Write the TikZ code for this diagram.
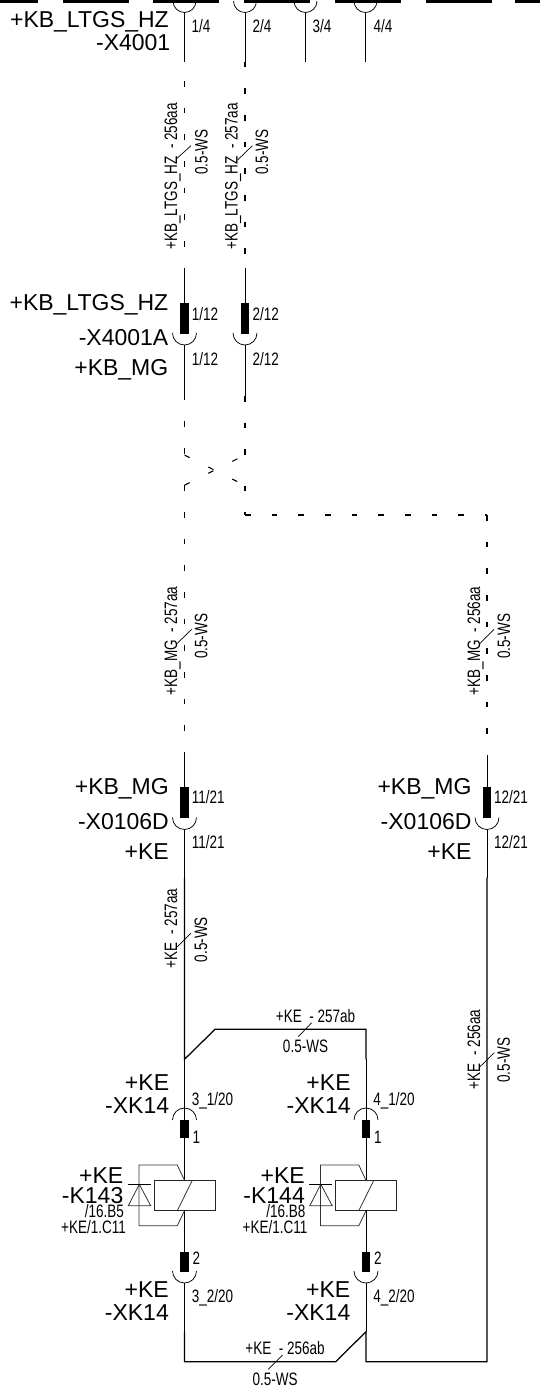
\documentclass[tikz,border=0pt]{standalone}
\usepackage{fontspec}
\setmainfont{Liberation Sans}
\newfontfamily\narrowf[FakeStretch=0.75]{Liberation Sans}
\tikzset{
  biglabel/.style={anchor=base east,inner sep=0pt,font=\fontsize{23}{23}\selectfont},
  smalllabel/.style={anchor=base west,inner sep=0pt,font=\narrowf\fontsize{18}{18}\selectfont},
  smallright/.style={anchor=base east,inner sep=0pt,font=\narrowf\fontsize{18}{18}\selectfont},
  smallmid/.style={anchor=base,inner sep=0pt,font=\narrowf\fontsize{18}{18}\selectfont},
  wirelabel/.style={rotate=90,anchor=base,inner sep=0pt,font=\narrowf\fontsize{18}{18}\selectfont},
  stub/.style={draw=black,line width=0.9pt},
  wire/.style={draw=black,line width=1.25pt},
  dashwire/.style={draw=black,line width=1.1pt,dash pattern=on 5.7pt off 20.97pt},
  tick/.style={draw=black,line width=0.7pt},
  pinbox/.style={fill=black,draw=none,inner sep=0pt,minimum width=8.6pt},
  socket/.style={draw=black,line width=0.75pt},
  bar/.style={fill=black,draw=none,inner sep=0pt,minimum height=5.4pt},
  coil/.style={draw=black!85,line width=0.9pt,inner sep=0pt,minimum width=60.7pt,minimum height=30.4pt},
  thin part/.style={draw=black!80,line width=0.8pt}
}
\begin{document}
\begin{tikzpicture}[x=1pt,y=-1pt]
\useasboundingbox (0,0) rectangle (540,1398);
% top bars
\foreach \n/\a/\w in {a/19/38,b/96/66,c/186/66,d/276.5/66,e/368/66,f/458.5/66,g/527.5/25}
  \node[bar,minimum width=\w pt] (bar\n) at (\a,0) {};
% top sockets
\foreach \n/\cx/\e in {1/184.5/62.3,2/245/66.7,3/305.5/62.3,4/365.5/62.3}{
  \coordinate (s\n) at (\cx,12.5);
  \coordinate (e\n) at (\cx,\e);
  \draw[socket] ([xshift=-11.5pt,yshift=11.5pt]s\n) arc[start angle=180,end angle=360,radius=11.5pt];
  \draw[stub] (s\n) -- (e\n);
}
\node[smalllabel] (t1) at (191.5,32) {1/4};
\node[smalllabel] (t2) at (252.5,32) {2/4};
\node[smalllabel] (t3) at (312.5,32) {3/4};
\node[smalllabel] (t4) at (373.5,32) {4/4};
\node[biglabel] (la) at (169,27.3) {+KB\_LTGS\_HZ};
\node[biglabel] (lb) at (170.5,50.5) {-X4001};
% dashed wires top
\coordinate (d1a) at (184.5,54.3); \coordinate (d1b) at (184.5,267.7);
\coordinate (d2a) at (245,61.6);  \coordinate (d2b) at (245,274);
\draw[dashwire] (d1a) -- (d1b);
\draw[dashwire] (d2a) -- (d2b);
\node[wirelabel] (w1) at (177,176.3) {+KB\_LTGS\_HZ\ \ - 256aa};
\node[wirelabel] (w1b) at (207.5,152) {0.5-WS};
\coordinate (k1a) at (177,158.3); \coordinate (k1b) at (191,145.7);
\draw[tick] (k1a) -- (k1b);
\node[wirelabel] (w2) at (237.6,176.3) {+KB\_LTGS\_HZ\ \ - 257aa};
\node[wirelabel] (w2b) at (268,152) {0.5-WS};
\coordinate (k2a) at (237.6,160); \coordinate (k2b) at (252.4,145.7);
\draw[tick] (k2a) -- (k2b);
% X4001A
\foreach \n/\cx/\lx/\e in {1/184.5/191.7/396.7,2/245/252.3/396}{
  \coordinate (u\n) at (\cx,267.7);
  \node[pinbox,minimum height=31pt] (pa\n) at (\cx,318.5) {};
  \coordinate (v\n) at (\cx,345);
  \coordinate (x\n) at (\cx,\e);
  \draw[stub] (u\n) -- (pa\n.north);
  \draw[socket] ([xshift=-12pt,yshift=12pt]v\n) arc[start angle=180,end angle=360,radius=12pt];
  \draw[stub] (v\n) -- (x\n);
}
\node[smalllabel] (t5) at (191.7,320) {1/12};
\node[smalllabel] (t6) at (191.7,365) {1/12};
\node[smalllabel] (t7) at (252.3,320) {2/12};
\node[smalllabel] (t8) at (252.3,365) {2/12};
\node[biglabel] (lc) at (168.5,310.7) {+KB\_LTGS\_HZ};
\node[biglabel] (ld) at (168.5,345.7) {-X4001A};
\node[biglabel] (le) at (168.5,375.7) {+KB\_MG};
% crossing
\coordinate (c1) at (184.5,394.6); \coordinate (c2) at (184.5,455);
\coordinate (c3) at (245,485.5);  \coordinate (c4) at (245,515);
\coordinate (c5) at (487,515);    \coordinate (c6) at (487,755);
\coordinate (c7) at (245,396);    \coordinate (c8) at (245,455);
\coordinate (c9) at (184.5,485.2);\coordinate (c10) at (184.5,751.7);
\draw[dashwire] (c1) -- (c2);
\draw[dashwire] (c2) -- (c3);
\draw[dashwire] (c3) -- (c4);
\draw[dashwire] (c4) -- (c5);
\draw[dashwire] (c5) -- (c6);
\draw[dashwire] (c7) -- (c8);
\draw[dashwire] (c9) -- (c8);
\draw[dashwire] (c9) -- (c10);
\node[wirelabel] (w3) at (177,641) {+KB\_MG\ \ - 257aa};
\node[wirelabel] (w3b) at (207.3,636.3) {0.5-WS};
\coordinate (k3a) at (177.3,643.3); \coordinate (k3b) at (191.7,629.3);
\draw[tick] (k3a) -- (k3b);
\node[wirelabel] (w4) at (480,641) {+KB\_MG\ \ - 256aa};
\node[wirelabel] (w4b) at (510,636.3) {0.5-WS};
\coordinate (k4a) at (480,643.3); \coordinate (k4b) at (494,629.3);
\draw[tick] (k4a) -- (k4b);
% X0106D
\foreach \n/\cx in {1/184.5,2/487}{
  \coordinate (y\n) at (\cx,\ifnum\n=1 751.7\else 755\fi);
  \node[pinbox,minimum height=31pt] (pb\n) at (\cx,802.5) {};
  \coordinate (z\n) at (\cx,829.5);
  \coordinate (q\n) at (\cx,877.5);
  \draw[stub] (y\n) -- (pb\n.north);
  \draw[socket] ([xshift=-12pt,yshift=12pt]z\n) arc[start angle=180,end angle=360,radius=12pt];
  \draw[stub] (z\n) -- (q\n);
}
\node[smalllabel] (t9) at (191.7,803.3) {11/21};
\node[smalllabel] (t10) at (191.7,848.3) {11/21};
\node[smalllabel] (t11) at (494,803.3) {12/21};
\node[smalllabel] (t12) at (494,848.3) {12/21};
\node[biglabel] (lf) at (169,794.5) {+KB\_MG};
\node[biglabel] (lg) at (169,829) {-X0106D};
\node[biglabel] (lh) at (169,859) {+KE};
\node[biglabel] (li) at (471.7,794.5) {+KB\_MG};
\node[biglabel] (lj) at (471.7,829) {-X0106D};
\node[biglabel] (lk) at (471.7,859) {+KE};
% +KE wires
\coordinate (j1) at (184.5,1059.3); \coordinate (j2) at (215,1029.3); \coordinate (j3) at (366,1029.3); \coordinate (j4) at (366,1059.3);
\draw[wire] (q1) -- (j1) -- (j2) -- (j3) -- (j4);
\coordinate (b1) at (184.5,1331.7); \coordinate (b2) at (184.5,1361.7); \coordinate (b3) at (335.7,1361.7); \coordinate (b4) at (366,1331.7); \coordinate (b5) at (366,1361.7); \coordinate (b6) at (487,1361.7);
\draw[wire] (b1) -- (b2) -- (b3) -- (b4) -- (b5) -- (b6) -- (q2);
\node[wirelabel] (w5) at (177,928.5) {+KE\ \ - 257aa};
\node[wirelabel] (w5b) at (207,939.5) {0.5-WS};
\coordinate (k5a) at (177.3,946.7); \coordinate (k5b) at (191,933);
\draw[tick] (k5a) -- (k5b);
\node[wirelabel] (w6) at (480,1049.5) {+KE\ \ - 256aa};
\node[wirelabel] (w6b) at (509.8,1060.2) {0.5-WS};
\coordinate (k6a) at (480,1066.7); \coordinate (k6b) at (494.3,1052.7);
\draw[tick] (k6a) -- (k6b);
\node[smallmid] (w7) at (315.5,1022) {+KE\ \ - 257ab};
\node[smallmid] (w7b) at (305.5,1052) {0.5-WS};
\coordinate (k7a) at (311.7,1022.7); \coordinate (k7b) at (298.3,1036.7);
\draw[tick] (k7a) -- (k7b);
\node[smallmid] (w8) at (285,1354.5) {+KE\ \ - 256ab};
\node[smallmid] (w8b) at (275.2,1385) {0.5-WS};
\coordinate (k8a) at (282.7,1355); \coordinate (k8b) at (268.3,1369.3);
\draw[tick] (k8a) -- (k8b);
% relays
\foreach \n/\dx/\loc/\cola/\colb in {143/0/B5/3/3,144/181.5/B8/4/4}{
\begin{scope}[shift={(\dx,0)}]
  \coordinate (ka\n) at (184.5,1059.3);
  \coordinate (kb\n) at (184.5,1108);
  \draw[stub] (ka\n) -- (kb\n);
  \draw[socket] (172.5,1120) arc[start angle=180,end angle=0,radius=12pt];
  \node[pinbox,minimum height=18pt] (pc\n) at (184.5,1129) {};
  \draw[stub] (kb\n) -- (pc\n.north);
  \node[coil] (coil\n) at (184.65,1195.5) {};
  \draw[stub] (pc\n.south) -- (coil\n.north -| pc\n.south);
  \coordinate (sa\n) at (177.3,1210.7); \coordinate (sb\n) at (192.3,1180.3);
  \draw[thin part] (sa\n) -- (sb\n);
  \coordinate (r1\n) at (184.5,1180.3); \coordinate (r2\n) at (177.3,1165); \coordinate (r3\n) at (139,1165);
  \coordinate (r4\n) at (139,1225.7); \coordinate (r5\n) at (177.3,1225.7); \coordinate (r6\n) at (184.5,1210.7);
  \draw[thin part] (r1\n) -- (r2\n) -- (r3\n) -- (r4\n) -- (r5\n) -- (r6\n);
  \coordinate (da\n) at (139.3,1184.3); \coordinate (db\n) at (128.3,1205.7); \coordinate (dc\n) at (150.7,1205.7);
  \draw[thin part] (da\n) -- (db\n) -- (dc\n) -- cycle;
  \coordinate (dd\n) at (127.7,1184.3); \coordinate (de\n) at (150.7,1184.3);
  \draw[draw=black,line width=0.8pt] (dd\n) -- (de\n);
  \node[pinbox,minimum height=20pt] (pd\n) at (184.5,1262) {};
  \draw[stub] (r6\n) -- (pd\n.north);
  \draw[socket] (172.5,1271) arc[start angle=180,end angle=360,radius=12pt];
  \coordinate (kc\n) at (184.5,1283);
  \coordinate (kd\n) at (184.5,1331.7);
  \draw[stub] (kc\n) -- (kd\n);
  \node[biglabel] (l1\n) at (169.3,1090) {+KE};
  \node[biglabel] (l2\n) at (169.3,1113.3) {-XK14};
  \node[smalllabel] (l3\n) at (191.7,1105) {\cola\_1/20};
  \node[smalllabel] (l4\n) at (192.5,1143.3) {1};
  \node[biglabel] (l5\n) at (123.5,1183.3) {+KE};
  \node[biglabel] (l6\n) at (123.5,1203) {-K\n};
  \node[smallright] (l7\n) at (124,1217.3) {/16.\loc};
  \node[smallright] (l8\n) at (126,1233.3) {+KE/1.C11};
  \node[smalllabel] (l9\n) at (192.5,1264) {2};
  \node[biglabel] (l10\n) at (169,1297.7) {+KE};
  \node[biglabel] (l11\n) at (169,1320.7) {-XK14};
  \node[smalllabel] (l12\n) at (191.7,1302.3) {\colb\_2/20};
\end{scope}}
\end{tikzpicture}
\end{document}
